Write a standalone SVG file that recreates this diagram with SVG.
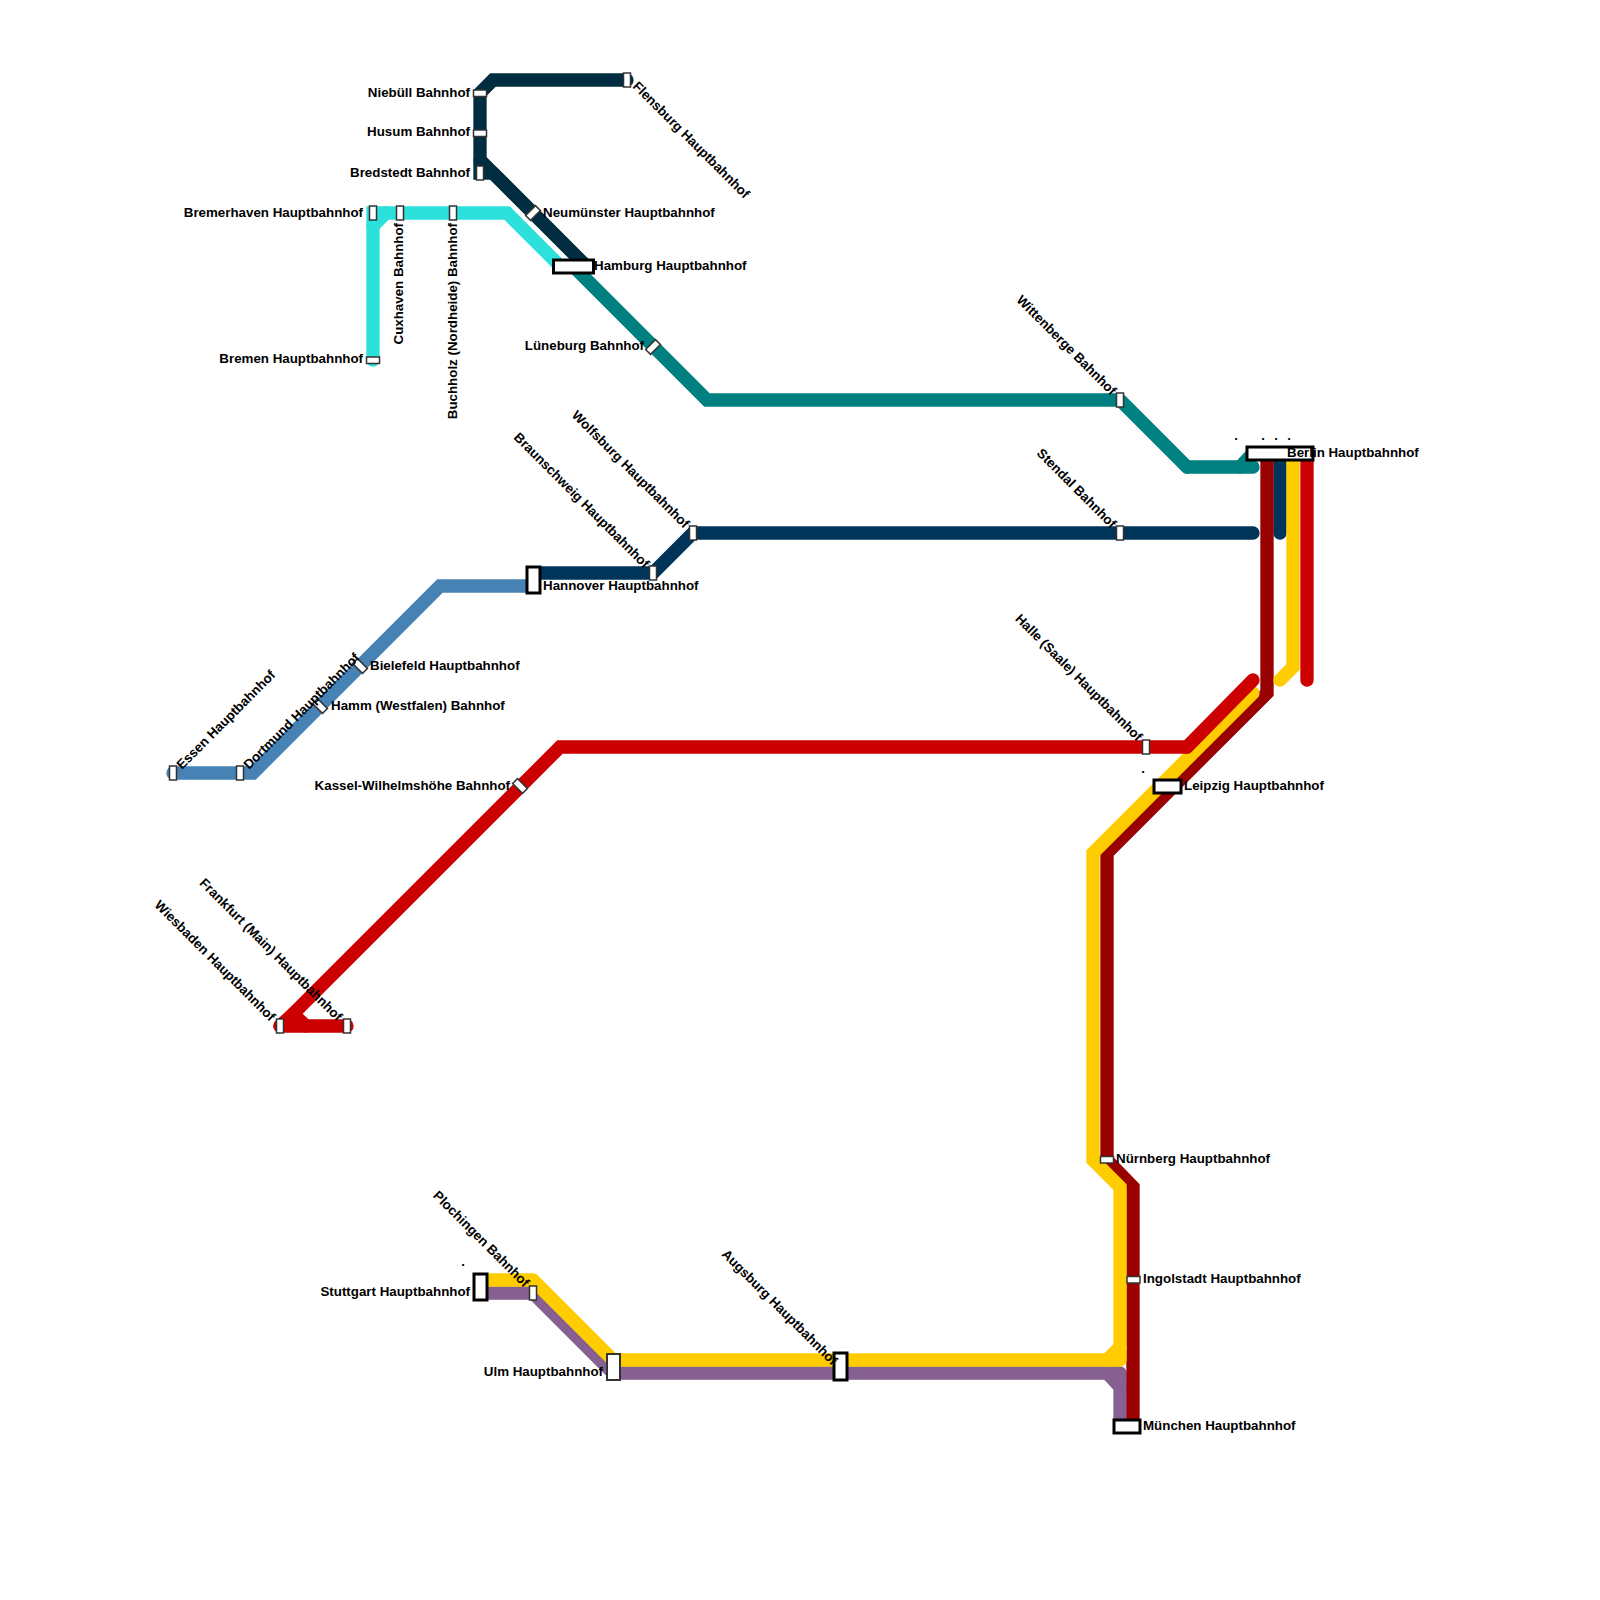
<svg xmlns="http://www.w3.org/2000/svg" width="1600" height="1600" viewBox="0 0 1600 1600">
<style>
.l{fill:none;stroke-width:13.33;stroke-linejoin:miter;stroke-linecap:round}
.r{stroke-linejoin:round}
.s{fill:#fff;stroke:#333;stroke-width:1.5}
.h{fill:#fff;stroke:#000;stroke-width:3}
.u{fill:#fff;stroke:#333;stroke-width:2}
text{font-family:"Liberation Sans",Arial,sans-serif;font-weight:700;font-size:13.33px;fill:#000}
.e{text-anchor:end}
</style>
<rect width="1600" height="1600" fill="#fff"/>
<g id="connectors">
<path class="l" stroke="#2ce0dc" d="M373 360V226L386 213H507L560 266"/>
<path class="l" stroke="#2ce0dc" d="M373 226V213H386"/>
<path class="l" stroke="#008080" d="M573 266L707 400H1120L1187 467"/>
<path class="l" stroke="#008080" d="M1187 467H1253"/>
<path class="l" stroke="#008080" d="M1240 467L1253 453"/>
<path class="l" stroke="#002e40" d="M627 80H493L480 93V173H493"/>
<path class="l" stroke="#002e40" d="M480 160L586 266"/>
<path class="l" stroke="#002e40" d="M493 173L586 266"/>
<path class="l" stroke="#4682b4" d="M173 773H253L440 586H533"/>
<path class="l" stroke="#003559" d="M533 573H653L693 533H1253"/>
<path class="l" stroke="#003559" d="M1280 453V533"/>
<path class="l" stroke="#856090" d="M480 1293H533L613 1373H1107L1120 1387V1427"/>
<path class="l r" stroke="#856090" d="M1107 1373H1120V1387"/>
<path class="l" stroke="#990000" d="M1267 453V693L1107 853V1160L1133 1187V1427"/>
<path class="l" stroke="#ffcc00" d="M1293 453V667L1280 680"/>
<path class="l" stroke="#ffcc00" d="M1253 693L1093 853V1160L1120 1187V1347L1107 1360H613"/>
<path class="l r" stroke="#ffcc00" d="M613 1360L533 1280H480"/>
<path class="l r" stroke="#ffcc00" d="M1107 1360H1120V1347"/>
<path class="l" stroke="#cc0000" d="M1307 453V680"/>
<path class="l" stroke="#cc0000" d="M1253 680L1187 747"/>
<path class="l" stroke="#cc0000" d="M1187 747H560L293 1014L280 1026"/>
<path class="l" stroke="#cc0000" d="M293 1014L306 1026"/>
<path class="l" stroke="#cc0000" d="M280 1026H347"/>
</g>
<g id="n-flensburg"><rect class="s" x="623.5" y="73" width="7" height="14"/><text transform="translate(632 87) rotate(45)">Flensburg Hauptbahnhof</text></g>
<g id="n-niebuell"><rect class="s" x="473.5" y="90" width="13" height="6.5"/><text class="e" x="470" y="96.5">Niebüll Bahnhof</text></g>
<g id="n-husum"><rect class="s" x="473.5" y="130" width="13" height="6.5"/><text class="e" x="470" y="136">Husum Bahnhof</text></g>
<g id="n-bredstedt"><rect class="s" x="476.5" y="166" width="7" height="14"/><text class="e" x="470" y="177">Bredstedt Bahnhof</text></g>
<g id="n-neumuenster"><rect class="s" x="-3.5" y="-7" width="7" height="14" transform="translate(533 213) rotate(45)"/><text x="543" y="217">Neumünster Hauptbahnhof</text></g>
<g id="n-hamburg"><rect class="h" x="553.5" y="260" width="40" height="13"/><text x="594" y="270">Hamburg Hauptbahnhof</text></g>
<g id="n-lueneburg"><rect class="s" x="-3.5" y="-7" width="7" height="14" transform="translate(653 347) rotate(45)"/><text class="e" x="644" y="350">Lüneburg Bahnhof</text></g>
<g id="n-bremerhaven"><rect class="s" x="369.5" y="206" width="7" height="14"/><text class="e" x="363" y="217">Bremerhaven Hauptbahnhof</text></g>
<g id="n-cuxhaven"><rect class="s" x="396.5" y="206" width="7" height="14"/><text class="e" transform="translate(403 223) rotate(-90)">Cuxhaven Bahnhof</text></g>
<g id="n-buchholz"><rect class="s" x="449.5" y="206" width="7" height="14"/><text class="e" transform="translate(457 223) rotate(-90)">Buchholz (Nordheide) Bahnhof</text></g>
<g id="n-bremen"><rect class="s" x="366.5" y="357" width="13" height="6.5"/><text class="e" x="363" y="363">Bremen Hauptbahnhof</text></g>
<g id="n-wittenberge"><rect class="s" x="1116.5" y="393" width="7" height="14"/><text class="e" transform="translate(1111 396) rotate(45)">Wittenberge Bahnhof</text></g>
<g id="n-berlin"><rect class="h" x="1247" y="447" width="66" height="13"/><text x="1287" y="457">Berlin Hauptbahnhof</text><text x="1236" y="440" text-anchor="middle">.</text><text x="1263" y="440" text-anchor="middle">.</text><text x="1276" y="440" text-anchor="middle">.</text><text x="1289" y="440" text-anchor="middle">.</text></g>
<g id="n-stendal"><rect class="s" x="1116.5" y="526" width="7" height="14"/><text class="e" transform="translate(1111 529) rotate(45)">Stendal Bahnhof</text></g>
<g id="n-wolfsburg"><rect class="s" x="689.5" y="526" width="7" height="14"/><text class="e" transform="translate(684 529) rotate(45)">Wolfsburg Hauptbahnhof</text></g>
<g id="n-braunschweig"><rect class="s" x="649.5" y="566" width="7" height="14"/><text class="e" transform="translate(644 569) rotate(45)">Braunschweig Hauptbahnhof</text></g>
<g id="n-hannover"><rect class="h" x="527" y="567" width="13" height="26"/><text x="543" y="590">Hannover Hauptbahnhof</text></g>
<g id="n-bielefeld"><rect class="s" x="-3.5" y="-7" width="7" height="14" transform="translate(360 666) rotate(-45)"/><text x="370" y="670">Bielefeld Hauptbahnhof</text></g>
<g id="n-hamm"><rect class="s" x="-3.5" y="-7" width="7" height="14" transform="translate(320 706) rotate(-45)"/><text x="331" y="710">Hamm (Westfalen) Bahnhof</text></g>
<g id="n-dortmund"><rect class="s" x="236.5" y="766" width="7" height="14"/><text transform="translate(249 770) rotate(-45)">Dortmund Hauptbahnhof</text></g>
<g id="n-essen"><rect class="s" x="169.5" y="766" width="7" height="14"/><text transform="translate(182 770) rotate(-45)">Essen Hauptbahnhof</text></g>
<g id="n-halle"><rect class="s" x="1142.5" y="740" width="7" height="14"/><text class="e" transform="translate(1137 742) rotate(45)">Halle (Saale) Hauptbahnhof</text></g>
<g id="n-leipzig"><rect class="h" x="1154" y="780" width="27" height="13"/><text x="1184" y="790">Leipzig Hauptbahnhof</text><text x="1143" y="773" text-anchor="middle">.</text></g>
<g id="n-kassel"><rect class="s" x="-3.5" y="-7" width="7" height="14" transform="translate(520 786) rotate(-45)"/><text class="e" x="510" y="790">Kassel-Wilhelmshöhe Bahnhof</text></g>
<g id="n-wiesbaden"><rect class="s" x="276.5" y="1019" width="7" height="14"/><text class="e" transform="translate(270 1022) rotate(45)">Wiesbaden Hauptbahnhof</text></g>
<g id="n-frankfurt"><rect class="s" x="343.5" y="1019" width="7" height="14"/><text class="e" transform="translate(337 1022) rotate(45)">Frankfurt (Main) Hauptbahnhof</text></g>
<g id="n-nuernberg"><rect class="s" x="1100.5" y="1156.5" width="13" height="6.5"/><text x="1116" y="1163">Nürnberg Hauptbahnhof</text></g>
<g id="n-ingolstadt"><rect class="s" x="1127" y="1276.5" width="13" height="6.5"/><text x="1143" y="1283">Ingolstadt Hauptbahnhof</text></g>
<g id="n-muenchen"><rect class="h" x="1114" y="1420" width="26" height="13"/><text x="1143" y="1430">München Hauptbahnhof</text></g>
<g id="n-augsburg"><rect class="h" x="834" y="1353" width="13" height="27"/><text class="e" transform="translate(832 1366) rotate(45)">Augsburg Hauptbahnhof</text></g>
<g id="n-ulm"><rect class="u" x="607" y="1354" width="13" height="26"/><text class="e" x="603" y="1376">Ulm Hauptbahnhof</text></g>
<g id="n-plochingen"><rect class="s" x="529.5" y="1286" width="7" height="14"/><text class="e" transform="translate(524 1288) rotate(45)">Plochingen Bahnhof</text></g>
<g id="n-stuttgart"><rect class="h" x="474" y="1274" width="13" height="26"/><text class="e" x="470" y="1296">Stuttgart Hauptbahnhof</text><text x="463" y="1266" text-anchor="middle">.</text></g>
</svg>
